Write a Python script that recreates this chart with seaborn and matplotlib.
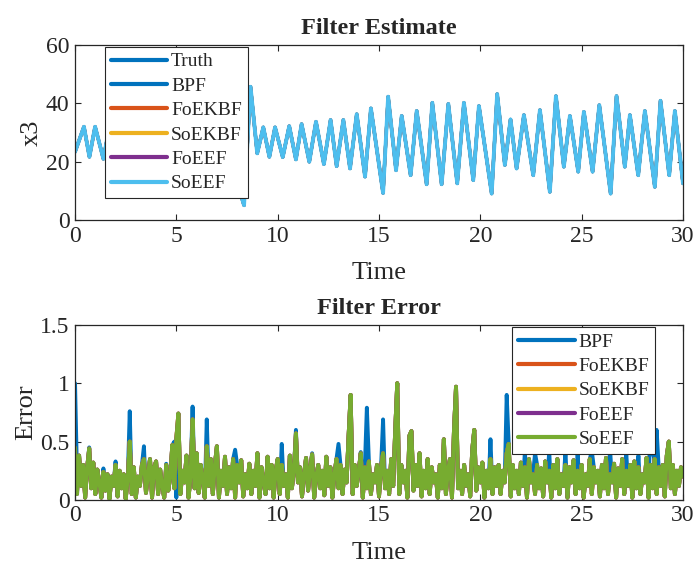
import numpy as np
import matplotlib
matplotlib.use("Agg")
import matplotlib.pyplot as plt
import seaborn as sns

# MATLAB default line colours
colors = {
    "Truth": "#0072BD",
    "BPF": "#0072BD",
    "FoEKBF": "#D95319",
    "SoEKBF": "#EDB120",
    "FoEEF": "#7E2F8E",
    "SoEEF": "#4DBEEE",
}
err_colors = ["#0072BD", "#D95319", "#EDB120", "#7E2F8E", "#77AC30"]

# top panel: x3 turning points (all filters sit on the truth)
x3_time = [0.00, 0.44, 0.71, 0.99, 1.40, 1.70, 2.05, 2.35, 2.70, 3.00,
           3.35, 3.65, 4.00, 4.30, 4.65, 4.95, 5.30, 5.60, 5.95, 6.25,
           6.60, 6.90, 7.25, 7.55, 7.95, 8.34, 8.66, 8.99, 9.29, 9.59,
           9.87, 10.25, 10.57, 10.90, 11.18, 11.56, 11.89, 12.28, 12.61, 12.91,
           13.24, 13.57, 13.90, 14.31, 14.60, 15.20, 15.45, 15.84, 16.12, 16.56,
           16.86, 17.35, 17.63, 18.09, 18.42, 18.86, 19.19, 19.65, 19.93, 20.56,
           20.83, 21.21, 21.49, 21.79, 22.15, 22.61, 22.94, 23.43, 23.73, 24.12,
           24.42, 24.83, 25.11, 25.54, 25.87, 26.43, 26.72, 27.13, 27.38, 27.79,
           28.12, 28.61, 28.89, 29.32, 29.60, 30.00]
x3_value = [23.4, 32.0, 21.7, 32.0, 21.0, 32.0, 21.5, 32.0, 21.5, 31.5,
            22.0, 31.5, 22.0, 31.0, 22.5, 31.0, 22.5, 30.5, 22.0, 32.0,
            20.5, 34.0, 18.0, 37.0, 14.0, 5.1, 45.7, 22.9, 31.8, 21.7,
            31.8, 21.6, 32.2, 20.8, 32.9, 20.0, 33.7, 19.2, 34.3, 18.5,
            34.3, 17.7, 36.3, 14.9, 38.3, 9.3, 42.3, 17.1, 35.7, 15.4,
            37.4, 12.3, 40.2, 12.3, 39.8, 12.6, 40.2, 13.7, 39.1, 9.1,
            43.2, 18.9, 34.5, 17.7, 36.0, 15.4, 37.7, 9.7, 42.5, 18.3,
            35.7, 16.6, 37.1, 16.6, 39.4, 9.1, 42.5, 18.3, 36.0, 15.4,
            37.4, 11.4, 40.9, 15.4, 37.4, 12.6]

# bottom panel: absolute errors sampled every 0.1 s (one row per second)
err_time = np.round(np.arange(0, 30.05, 0.1), 1)
bpf_err = [
    1.00, 0.20, 0.38, 0.12, 0.30, 0.02, 0.28, 0.45, 0.10, 0.32,
    0.05, 0.26, 0.15, 0.02, 0.27, 0.08, 0.22, 0.01, 0.20, 0.12,
    0.33, 0.03, 0.25, 0.10, 0.22, 0.01, 0.18, 0.76, 0.05, 0.28,
    0.02, 0.20, 0.12, 0.30, 0.46, 0.06, 0.22, 0.35, 0.02, 0.28,
    0.33, 0.05, 0.26, 0.12, 0.02, 0.31, 0.08, 0.20, 0.47, 0.50,
    0.02, 0.74, 0.05, 0.25, 0.15, 0.38, 0.02, 0.20, 0.80, 0.10,
    0.40, 0.06, 0.30, 0.18, 0.02, 0.69, 0.12, 0.35, 0.05, 0.30,
    0.46, 0.02, 0.25, 0.12, 0.37, 0.05, 0.28, 0.10, 0.35, 0.43,
    0.30, 0.15, 0.34, 0.03, 0.22, 0.10, 0.31, 0.05, 0.25, 0.12,
    0.40, 0.02, 0.28, 0.15, 0.05, 0.37, 0.10, 0.30, 0.02, 0.25,
    0.35, 0.05, 0.48, 0.12, 0.22, 0.02, 0.38, 0.10, 0.25, 0.60,
    0.15, 0.28, 0.03, 0.22, 0.36, 0.08, 0.26, 0.40, 0.02, 0.20,
    0.30, 0.10, 0.25, 0.04, 0.37, 0.12, 0.28, 0.02, 0.22, 0.35,
    0.48, 0.30, 0.05, 0.26, 0.15, 0.55, 0.90, 0.05, 0.30, 0.12,
    0.25, 0.41, 0.02, 0.28, 0.79, 0.33, 0.05, 0.22, 0.15, 0.30,
    0.03, 0.28, 0.69, 0.10, 0.25, 0.05, 0.35, 0.12, 0.60, 1.00,
    0.05, 0.30, 0.15, 0.25, 0.02, 0.55, 0.59, 0.08, 0.30, 0.12,
    0.40, 0.03, 0.25, 0.10, 0.35, 0.05, 0.28, 0.15, 0.22, 0.02,
    0.30, 0.10, 0.52, 0.05, 0.25, 0.35, 0.02, 0.60, 0.97, 0.10,
    0.25, 0.05, 0.30, 0.12, 0.22, 0.03, 0.43, 0.60, 0.08, 0.28,
    0.15, 0.32, 0.02, 0.25, 0.10, 0.52, 0.05, 0.28, 0.12, 0.30,
    0.05, 0.25, 0.15, 0.90, 0.48, 0.03, 0.30, 0.10, 0.25, 0.05,
    0.32, 0.12, 0.42, 0.02, 0.35, 0.15, 0.22, 0.40, 0.30, 0.10,
    0.27, 0.03, 0.33, 0.15, 0.42, 0.02, 0.30, 0.10, 0.35, 0.05,
    0.22, 0.12, 0.42, 0.02, 0.28, 0.15, 0.34, 0.05, 0.40, 0.10,
    0.30, 0.02, 0.22, 0.12, 0.35, 0.42, 0.28, 0.15, 0.25, 0.03,
    0.30, 0.10, 0.36, 0.05, 0.44, 0.15, 0.31, 0.02, 0.27, 0.12,
    0.35, 0.05, 0.40, 0.12, 0.30, 0.02, 0.33, 0.10, 0.38, 0.05,
    0.22, 0.15, 0.36, 0.02, 0.83, 0.40, 0.35, 0.60, 0.28, 0.12,
    0.30, 0.03, 0.38, 0.50, 0.10, 0.30, 0.05, 0.25, 0.12, 0.28,
    0.26]
soeef_err = [
    0.45, 0.05, 0.38, 0.12, 0.30, 0.02, 0.28, 0.44, 0.10, 0.32,
    0.05, 0.26, 0.15, 0.02, 0.24, 0.08, 0.22, 0.01, 0.20, 0.12,
    0.30, 0.03, 0.25, 0.10, 0.22, 0.01, 0.18, 0.50, 0.05, 0.28,
    0.02, 0.20, 0.12, 0.30, 0.35, 0.06, 0.22, 0.35, 0.02, 0.28,
    0.33, 0.05, 0.26, 0.12, 0.02, 0.30, 0.08, 0.20, 0.47, 0.10,
    0.53, 0.74, 0.05, 0.25, 0.15, 0.38, 0.02, 0.20, 0.69, 0.10,
    0.40, 0.06, 0.30, 0.18, 0.02, 0.46, 0.12, 0.35, 0.05, 0.30,
    0.46, 0.02, 0.25, 0.12, 0.37, 0.05, 0.28, 0.10, 0.35, 0.02,
    0.30, 0.15, 0.34, 0.03, 0.22, 0.10, 0.31, 0.05, 0.25, 0.12,
    0.40, 0.02, 0.28, 0.15, 0.05, 0.37, 0.10, 0.30, 0.02, 0.25,
    0.35, 0.05, 0.30, 0.12, 0.22, 0.02, 0.38, 0.10, 0.25, 0.57,
    0.15, 0.28, 0.03, 0.22, 0.36, 0.08, 0.26, 0.39, 0.02, 0.20,
    0.30, 0.10, 0.25, 0.04, 0.37, 0.12, 0.28, 0.02, 0.22, 0.35,
    0.10, 0.30, 0.05, 0.26, 0.15, 0.55, 0.90, 0.05, 0.30, 0.12,
    0.25, 0.40, 0.02, 0.28, 0.10, 0.33, 0.05, 0.22, 0.15, 0.30,
    0.03, 0.28, 0.40, 0.10, 0.25, 0.05, 0.35, 0.12, 0.60, 1.00,
    0.05, 0.30, 0.15, 0.25, 0.02, 0.55, 0.59, 0.08, 0.30, 0.12,
    0.40, 0.03, 0.25, 0.10, 0.35, 0.05, 0.28, 0.15, 0.22, 0.02,
    0.30, 0.10, 0.52, 0.05, 0.25, 0.35, 0.02, 0.60, 0.97, 0.10,
    0.25, 0.05, 0.30, 0.12, 0.22, 0.03, 0.43, 0.60, 0.08, 0.28,
    0.15, 0.32, 0.02, 0.25, 0.10, 0.35, 0.05, 0.28, 0.12, 0.30,
    0.05, 0.25, 0.15, 0.40, 0.48, 0.03, 0.30, 0.10, 0.25, 0.05,
    0.32, 0.12, 0.28, 0.02, 0.35, 0.15, 0.22, 0.05, 0.30, 0.10,
    0.27, 0.03, 0.33, 0.15, 0.25, 0.02, 0.30, 0.10, 0.35, 0.05,
    0.22, 0.12, 0.30, 0.02, 0.28, 0.15, 0.34, 0.05, 0.25, 0.10,
    0.30, 0.02, 0.22, 0.12, 0.35, 0.05, 0.28, 0.15, 0.25, 0.03,
    0.30, 0.10, 0.36, 0.05, 0.22, 0.15, 0.31, 0.02, 0.27, 0.12,
    0.35, 0.05, 0.25, 0.12, 0.30, 0.02, 0.33, 0.10, 0.28, 0.05,
    0.22, 0.15, 0.36, 0.02, 0.30, 0.10, 0.35, 0.05, 0.28, 0.12,
    0.30, 0.03, 0.38, 0.50, 0.10, 0.30, 0.05, 0.25, 0.12, 0.28,
    0.20]
# the EKBF errors only show at the very start, elsewhere they hide under SoEEF
ekbf_start = [0.10, 0.08]
foekbf_err = ekbf_start + soeef_err[2:]
soekbf_err = ekbf_start + soeef_err[2:]
foeef_err = soeef_err
err_series = {
    "BPF": bpf_err,
    "FoEKBF": foekbf_err,
    "SoEKBF": soekbf_err,
    "FoEEF": foeef_err,
    "SoEEF": soeef_err,
}

sns.set_style("ticks")
plt.rcParams['font.family'] = ['Liberation Serif', 'DejaVu Serif']
plt.rcParams['axes.edgecolor'] = '#262626'
plt.rcParams['xtick.color'] = '#262626'
plt.rcParams['ytick.color'] = '#262626'

fig = plt.figure(figsize=(6.98, 5.63), dpi=100)
ax1 = fig.add_axes([0.1075, 0.609, 0.871, 0.311])
ax2 = fig.add_axes([0.1075, 0.112, 0.871, 0.311])

names = list(colors)
for name, col in colors.items():
    # the top series hides the identical ones underneath
    lw = 2.8 if name == names[-1] else 2.3
    sns.lineplot(x=x3_time, y=x3_value, color=col, lw=lw, label=name, ax=ax1)

for (name, vals), col in zip(err_series.items(), err_colors):
    sns.lineplot(x=err_time, y=vals, color=col, lw=2.8, label=name, ax=ax2)

for ax in (ax1, ax2):
    ax.set_xlim(0, 30)
    ax.set_xticks(range(0, 31, 5))
    ax.tick_params(direction='in', top=True, right=True, length=4,
                   width=0.8, labelsize=17, pad=4)
    for sp in ax.spines.values():
        sp.set_linewidth(0.9)
    ax.set_xlabel("Time", fontsize=19, labelpad=11)

ax1.set_ylim(0, 60)
ax1.set_yticks([0, 20, 40, 60])
ax1.set_ylabel("x3", fontsize=19, labelpad=2)
ax1.set_title("Filter Estimate", fontsize=17.5, fontweight='bold', pad=8)

ax2.set_ylim(0, 1.5)
ax2.set_yticks([0, 0.5, 1, 1.5])
ax2.set_yticklabels(["0", "0.5", "1", "1.5"])
ax2.set_ylabel("Error", fontsize=19, labelpad=2)
ax2.set_title("Filter Error", fontsize=17.5, fontweight='bold', pad=8)

leg_kw = dict(fontsize=14, frameon=True, fancybox=False, framealpha=1,
              edgecolor='#262626', borderaxespad=0, handlelength=2.9,
              handletextpad=0.2, labelspacing=0.35, borderpad=0.3)
leg1 = ax1.legend(loc='upper left', bbox_to_anchor=(0.049, 0.989), **leg_kw)
leg2 = ax2.legend(loc='upper right', bbox_to_anchor=(0.954, 0.987), **leg_kw)
for leg in (leg1, leg2):
    leg.get_frame().set_linewidth(0.8)
    for ln in leg.get_lines():
        ln.set_linewidth(3)

fig.savefig("out.png", dpi=100)
